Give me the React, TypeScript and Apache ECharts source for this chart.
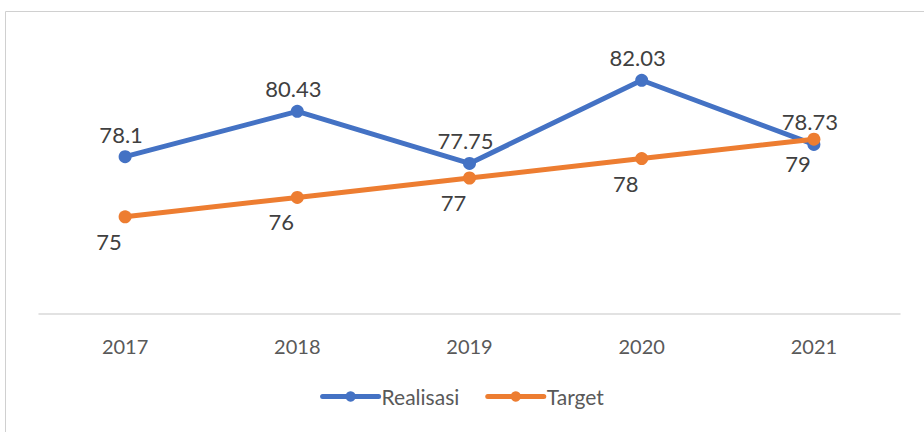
import React, { useEffect, useRef } from "react";
import * as echarts from "echarts";

const years = ["2017", "2018", "2019", "2020", "2021"];
const realisasi = [78.1, 80.43, 77.75, 82.03, 78.73];
const target = [75, 76, 77, 78, 79];

const FONT = "Lato, 'Open Sans', sans-serif";

export default function App() {
  const ref = useRef<HTMLDivElement>(null);
  useEffect(() => {
    if (!ref.current) return;
    const chart = echarts.init(ref.current, undefined, { renderer: "svg" });
    chart.setOption({
      animation: false,
      backgroundColor: "#ffffff",
      graphic: [
        {
          type: "rect",
          shape: { x: 5.5, y: 11.5, width: 1000, height: 600 },
          style: { fill: "none", stroke: "#d0d0d0", lineWidth: 1 },
          silent: true,
        },
      ],
      grid: { left: 39, right: 24, top: 42, bottom: 118 },
      legend: {
        bottom: 20,
        left: "center",
        itemWidth: 56,
        itemHeight: 13,
        itemGap: 26,
        lineStyle: { width: 5, cap: "round" },
        textStyle: { color: "#595959", fontSize: 21, fontFamily: FONT, padding: [0, 0, 0, -2] },
        data: ["Realisasi", "Target"],
      },
      xAxis: {
        type: "category",
        data: years,
        boundaryGap: true,
        axisLine: { lineStyle: { color: "#d9d9d9", width: 1.5 } },
        axisTick: { show: false },
        axisLabel: { color: "#595959", fontSize: 20, fontFamily: FONT, margin: 22 },
      },
      yAxis: {
        type: "value",
        min: 70,
        max: 84,
        interval: 2,
        show: false,
        splitLine: { show: false },
      },
      series: [
        {
          name: "Realisasi",
          type: "line",
          data: realisasi,
          color: "#4472C4",
          lineStyle: { width: 5, color: "#4472C4" },
          symbol: "circle",
          symbolSize: 13,
          itemStyle: { color: "#4472C4" },
          label: {
            show: true,
            position: "top",
            offset: [-4, 0],
            color: "#404040",
            fontSize: 22,
            fontFamily: FONT,
          },
        },
        {
          name: "Target",
          type: "line",
          data: target,
          color: "#ED7D31",
          lineStyle: { width: 5, color: "#ED7D31" },
          symbol: "circle",
          symbolSize: 13,
          itemStyle: { color: "#ED7D31" },
          label: {
            show: true,
            position: "bottom",
            offset: [-16, 2],
            color: "#404040",
            fontSize: 22,
            fontFamily: FONT,
          },
        },
      ],
    });
    return () => chart.dispose();
  }, []);
  return (
    <div
      ref={ref}
      style={{ position: "fixed", left: 0, top: 0, width: 924, height: 432 }}
    />
  );
}
